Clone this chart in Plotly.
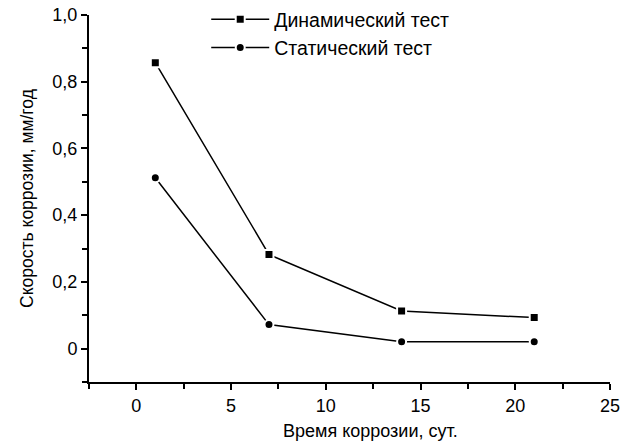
import plotly.graph_objects as go

days = [1, 7, 14, 21]
dynamic_rate = [0.857, 0.282, 0.113, 0.093]
static_rate = [0.512, 0.072, 0.021, 0.021]
series_names = ["Динамический тест", "Статический тест"]
x_ticks = [0, 5, 10, 15, 20, 25]
y_ticks = [0, 0.2, 0.4, 0.6, 0.8, 1.0]
y_tick_labels = ["0", "0,2", "0,4", "0,6", "0,8", "1,0"]
x_title = "Время коррозии, сут."
y_title = "Скорость коррозии, мм/год"

FONT = "Liberation Sans, Arial"

fig = go.Figure()
fig.add_trace(go.Scatter(x=days, y=dynamic_rate, name=series_names[0], mode="lines+markers",
                         legendgroup="a",
                         line=dict(color="black", width=1.5),
                         marker=dict(symbol="square", size=9, color="black", line=dict(color="white", width=2))))
fig.add_trace(go.Scatter(x=days, y=static_rate, name=series_names[1], mode="lines+markers",
                         legendgroup="b",
                         line=dict(color="black", width=1.5),
                         marker=dict(symbol="circle", size=9, color="black", line=dict(color="white", width=2))))

axis_common = dict(showline=True, linecolor="black", linewidth=2, ticks="outside", ticklen=6,
                   tickwidth=2, tickcolor="black", showgrid=False, zeroline=False, automargin=False,
                   ticklabeloverflow="allow",
                   tickfont=dict(family=FONT, size=18, color="black"))
fig.update_xaxes(range=[-2.5, 25], tickvals=x_ticks,
                 minor=dict(ticks="outside", ticklen=5, tickwidth=2, tickcolor="black", dtick=2.5, tick0=0),
                 **axis_common)
fig.update_yaxes(range=[-0.1, 1.0], tickvals=y_ticks, ticktext=y_tick_labels,
                 minor=dict(ticks="outside", ticklen=5, tickwidth=2, tickcolor="black", dtick=0.1, tick0=0),
                 title=dict(text=y_title, font=dict(family=FONT, size=17.5, color="black"), standoff=14),
                 **axis_common)
fig.add_annotation(text=x_title, xref="paper", yref="paper", x=0.54, y=-0.133,
                   xanchor="center", yanchor="middle", showarrow=False,
                   font=dict(family=FONT, size=18, color="black"))
fig.update_layout(width=630, height=446, plot_bgcolor="white", paper_bgcolor="white",
                  margin=dict(l=89, r=20, t=15, b=64, autoexpand=False),
                  legend=dict(x=0.225, y=1.022, xref="paper", yref="container", xanchor="left", yanchor="top",
                              bgcolor="rgba(0,0,0,0)", traceorder="grouped",
                              font=dict(family=FONT, size=19.5, color="black"),
                              itemwidth=58, tracegroupgap=0))
fig.write_html("out.html", config={"displayModeBar": False},
               post_script="document.body.style.margin='0';")
